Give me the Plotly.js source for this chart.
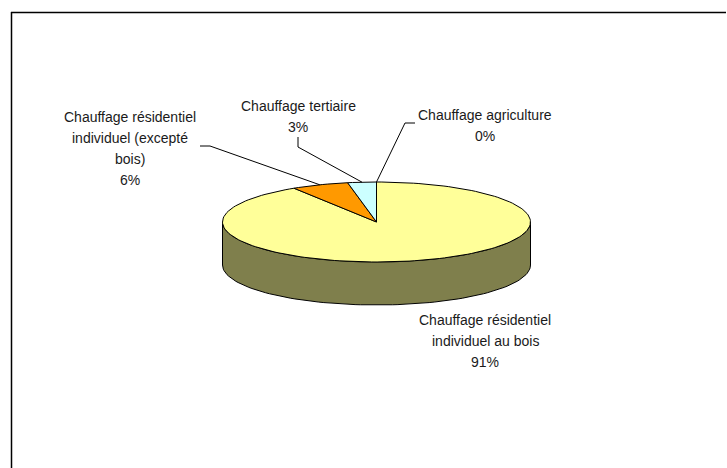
<!DOCTYPE html>
<html>
<head>
<meta charset="utf-8">
<script src="https://cdn.plot.ly/plotly-3.0.1.min.js"></script>
<style>html,body{margin:0;padding:0;background:#fff;}#chart{width:727px;height:468px;}</style>
</head>
<body>
<div id="chart"></div>
<script>
// ---- data ----
const categories = [
  "Chauffage résidentiel individuel au bois",
  "Chauffage résidentiel individuel (excepté bois)",
  "Chauffage tertiaire",
  "Chauffage agriculture"
];
const shares = [91, 6, 3, 0];
const labelLines = [
  ["Chauffage résidentiel", "individuel au bois"],
  ["Chauffage résidentiel", "individuel (excepté", "bois)"],
  ["Chauffage tertiaire"],
  ["Chauffage agriculture"]
];
const topColors = ["#FFFF99", "#FF9900", "#CCFFFF", "#9999FF"];
const sideColors = ["#7F7F4C", "#804C00", "#668080", "#4C4C80"];

// ---- layout constants (pixel space) ----
const W = 727, H = 468;
const cx = 376.5, cy = 222, rx = 154, ry = 40, depth = 43;
const FONT = "Liberation Sans";
// label block centres (first line) and leader elbows
const labelPos = [
  {x: 485, y: 320, elbow: null},
  {x: 130, y: 117, elbow: [[200, 146], [210, 146]]},
  {x: 298, y: 106, elbow: [[298, 137], [298, 147]]},
  {x: 485, y: 115, elbow: [[415, 123], [405, 123]]}
];
const lineGap = 21;

function pt(deg, dy) {
  const a = deg * Math.PI / 180;
  return [cx + rx * Math.sin(a), cy - ry * Math.cos(a) + (dy || 0)];
}
function arc(a0, a1, dy) {
  const n = Math.max(2, Math.ceil(Math.abs(a1 - a0) / 2));
  const out = [];
  for (let i = 0; i <= n; i++) out.push(pt(a0 + (a1 - a0) * i / n, dy));
  return out;
}

const total = shares.reduce((s, v) => s + v, 0);
const slices = [];
let cum = 0;
shares.forEach((v, i) => {
  const a0 = cum / total * 360;
  cum += v;
  const a1 = cum / total * 360;
  slices.push({a0, a1, i});
});

const traces = [];
// sides (front half: 90..270 deg)
slices.forEach(s => {
  const lo = Math.max(s.a0, 90), hi = Math.min(s.a1, 270);
  if (hi > lo) {
    const topArc = arc(lo, hi, 0);
    const botArc = arc(hi, lo, depth);
    const poly = topArc.concat(botArc);
    poly.push(topArc[0]);
    traces.push({
      type: "scatter", mode: "lines", fill: "toself",
      x: poly.map(p => p[0]), y: poly.map(p => p[1]),
      fillcolor: sideColors[s.i], line: {color: "#000", width: 1},
      hoverinfo: "skip"
    });
  }
});
// top faces
slices.forEach(s => {
  if (s.a1 - s.a0 <= 0) return;
  const poly = [[cx, cy]].concat(arc(s.a0, s.a1, 0));
  poly.push([cx, cy]);
  traces.push({
    type: "scatter", mode: "lines", fill: "toself",
    x: poly.map(p => p[0]), y: poly.map(p => p[1]),
    fillcolor: topColors[s.i], line: {color: "#000", width: 1},
    hoverinfo: "skip"
  });
});
// leader lines
slices.forEach(s => {
  const lp = labelPos[s.i];
  if (!lp.elbow) return;
  const mid = pt((s.a0 + s.a1) / 2, 0);
  const pts = lp.elbow.concat([mid]);
  traces.push({
    type: "scatter", mode: "lines",
    x: pts.map(p => p[0]), y: pts.map(p => p[1]),
    line: {color: "#000", width: 1}, hoverinfo: "skip"
  });
});

const annotations = [];
slices.forEach(s => {
  const lp = labelPos[s.i];
  const lines = labelLines[s.i].concat([Math.round(shares[s.i] / total * 100) + "%"]);
  lines.forEach((t, k) => {
    annotations.push({
      x: lp.x, y: lp.y + k * lineGap, xref: "x", yref: "y",
      text: t, showarrow: false, xanchor: "center", yanchor: "middle",
      font: {family: FONT, size: 14, color: "#1a1a1a"}
    });
  });
});

const layout = {
  width: W, height: H,
  margin: {l: 0, r: 0, t: 0, b: 0},
  paper_bgcolor: "#fff", plot_bgcolor: "#fff",
  showlegend: false,
  xaxis: {range: [0, W], visible: false, fixedrange: true},
  yaxis: {range: [H, 0], visible: false, fixedrange: true},
  annotations: annotations,
  shapes: [
    {type: "line", xref: "x", yref: "y", x0: 11, y0: 12.5, x1: 726, y1: 12.5, line: {color: "#000", width: 1.5}},
    {type: "line", xref: "x", yref: "y", x0: 11.5, y0: 12, x1: 11.5, y1: 468, line: {color: "#000", width: 1.5}}
  ]
};

Plotly.newPlot("chart", traces, layout, {displayModeBar: false, staticPlot: true});
</script>
</body>
</html>
